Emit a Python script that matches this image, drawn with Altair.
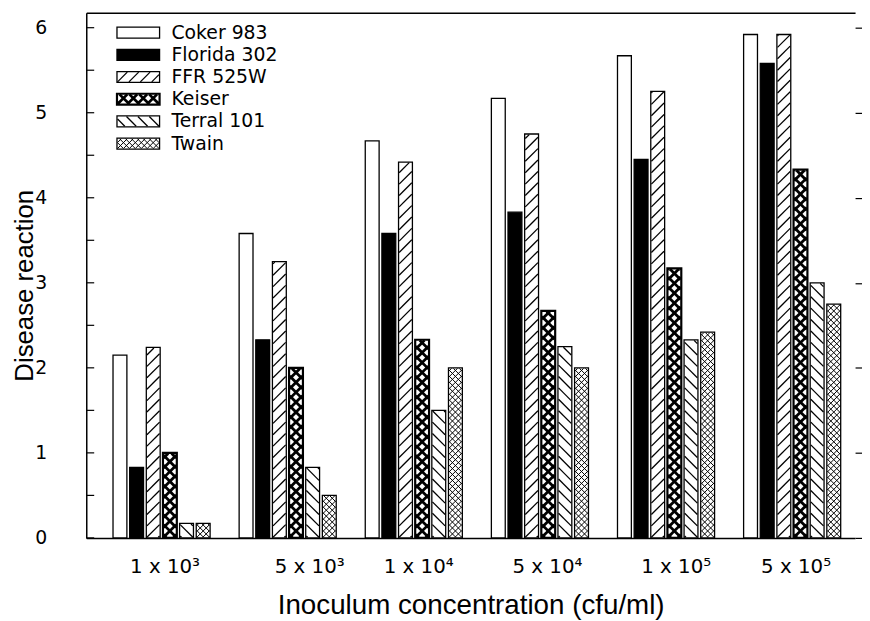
import json
import math
import numpy as np
import pandas as pd
import altair as alt

# ---------------- data ----------------
concentrations = ["1 x 10³", "5 x 10³", "1 x 10⁴", "5 x 10⁴", "1 x 10⁵", "5 x 10⁵"]
cultivars = ["Coker 983", "Florida 302", "FFR 525W", "Keiser", "Terral 101", "Twain"]
coker_983 = [2.15, 3.58, 4.67, 5.17, 5.67, 5.92]
florida_302 = [0.83, 2.33, 3.58, 3.83, 4.45, 5.58]
ffr_525w = [2.24, 3.25, 4.42, 4.75, 5.25, 5.92]
keiser = [1.00, 2.00, 2.33, 2.67, 3.17, 4.33]
terral_101 = [0.17, 0.83, 1.50, 2.25, 2.33, 3.00]
twain = [0.17, 0.50, 2.00, 2.00, 2.42, 2.75]
y_tick_values = [0, 0.5, 1, 1.5, 2, 2.5, 3, 3.5, 4, 4.5, 5, 5.5, 6]

series = [coker_983, florida_302, ffr_525w, keiser, terral_101, twain]
patterns = ["open", "solid", "fwd", "cross_heavy", "back", "cross_fine"]

# ---------------- layout (pixels) ----------------
W, H = 776, 530
Y_MAX = 6.175
PXY = H / Y_MAX
G0, G_STEP, B_STEP, B_W = 27, 127.3, 16.8, 14
LEG_X, LEG_W, LEG_H, LEG_TOP, LEG_ROW, LEG_TEXT_DX = 31, 43, 11, 20, 22.4, 55
# x positions (px from plot left) where the original prints each concentration label
LABEL_POS = [79, 225, 335, 465, 595, 716]

rows = []
for g, conc in enumerate(concentrations):
    for s, (cv, vals, pat) in enumerate(zip(cultivars, series, patterns)):
        x0 = G0 + g * G_STEP + s * B_STEP
        rows.append(dict(kind="bar", cultivar=cv, concentration=conc, pattern=pat,
                         x0=x0, x1=x0 + B_W, y0=0.0, y1=vals[g]))
legend_rows = []
for i, (cv, pat) in enumerate(zip(cultivars, patterns)):
    yc = (H - (LEG_TOP + i * LEG_ROW)) / PXY
    rows.append(dict(kind="legend", cultivar=cv, concentration="", pattern=pat,
                     x0=LEG_X, x1=LEG_X + LEG_W,
                     y0=yc - LEG_H / 2 / PXY, y1=yc + LEG_H / 2 / PXY))
    legend_rows.append(dict(cultivar=cv, tx=LEG_X + LEG_TEXT_DX, ty=yc))
boxes = pd.DataFrame(rows)
legend_df = pd.DataFrame(legend_rows)
ticks_df = pd.DataFrame({"v": y_tick_values})

# hatch line styles: pattern -> (list of (direction, spacing px), stroke width)
hatch_styles = {
    "fwd": ([("f", 11.5)], 1.3),
    "back": ([("b", 11.5)], 1.3),
    "cross_heavy": ([("f", 10.0), ("b", 10.0)], 2.8),
    "cross_fine": ([("f", 6.0), ("b", 6.0)], 1.0),
}


def hatch_segments(x0, x1, y0p, y1p, direction, d, ins=0.6):
    x0, x1, y0p, y1p = x0 + ins, x1 - ins, y0p + ins, y1p - ins
    w, h = x1 - x0, y1p - y0p
    out = []
    if w <= 0 or h <= 0:
        return out
    k = math.ceil(w / d)
    c = -k * d
    while c < h:
        t0, t1 = max(0.0, -c), min(w, h - c)
        if t1 > t0:
            ya, yb = y0p + c + t0, y0p + c + t1
            if direction == "f":
                xa, xb = x0 + t0, x0 + t1
            else:
                xa, xb = x1 - t0, x1 - t1
            out.append((xa, xb, ya / PXY, yb / PXY))
        c += d
    return out


hrows = []
for _, b in boxes.iterrows():
    if b.pattern not in hatch_styles:
        continue
    dirs, _sw = hatch_styles[b.pattern]
    for direction, d in dirs:
        for xa, xb, ya, yb in hatch_segments(b.x0, b.x1, b.y0 * PXY, b.y1 * PXY, direction, d):
            hrows.append(dict(pattern=b.pattern, xa=xa, xb=xb, ya=ya, yb=yb))
hatch_df = pd.DataFrame(hrows)

# ---------------- scales & axes ----------------
xs = alt.Scale(domain=[0, W], nice=False, zero=False)
ys = alt.Scale(domain=[0, Y_MAX], nice=False, zero=False)

label_expr = (f"{json.dumps(concentrations, ensure_ascii=False)}"
              f"[indexof({json.dumps(LABEL_POS)}, datum.value)]")

x_axis = alt.Axis(orient="bottom", values=LABEL_POS, labelExpr=label_expr, ticks=False,
                  domain=True, domainColor="black", domainWidth=1.5, grid=False,
                  labelPadding=19, labelFont="DejaVu Sans", labelFontSize=20, labelColor="black",
                  labelFlush=False, labelOverlap=False,
                  title="Inoculum concentration (cfu/ml)", titleFont="Liberation Sans",
                  titleFontSize=28, titleFontWeight="normal", titleColor="black", titlePadding=15)

x_top = alt.Axis(orient="top", labels=False, ticks=False, grid=False, domain=True,
                 domainColor="black", domainWidth=1.5, title="")

y_left = alt.Axis(orient="left", values=y_tick_values,
                  labelExpr="datum.value % 1 == 0 ? '' + datum.value : ''",
                  domain=True, domainColor="black", domainWidth=1.5, grid=False, ticks=False,
                  labelPadding=40, labelFont="DejaVu Sans", labelFontSize=19, labelColor="black",
                  labelFlush=False, labelOverlap=False,
                  title="Disease reaction", titleFont="Liberation Sans", titleFontSize=26,
                  titleFontWeight="normal", titleColor="black", titlePadding=-3, titleY=275)

y_right = alt.Axis(orient="right", values=[0, 1, 2, 3, 4, 5, 6], labels=False, domain=False,
                   grid=False, tickSize=7, tickColor="black", tickWidth=1.2, title="")

# ---------------- layers ----------------
bars_fill = alt.Chart(boxes).mark_rect(strokeWidth=0).encode(
    x=alt.X("x0:Q", scale=xs, axis=x_axis),
    x2="x1:Q",
    y=alt.Y("y0:Q", scale=ys, axis=y_left),
    y2="y1:Q",
    fill=alt.condition("datum.pattern == 'solid'", alt.value("black"), alt.value("white")),
)

hatch_layers = []
for pat, (_dirs, sw) in hatch_styles.items():
    hatch_layers.append(
        alt.Chart(hatch_df).transform_filter(f"datum.pattern == '{pat}'")
        .mark_rule(color="black", strokeWidth=sw)
        .encode(
            x=alt.X("xa:Q", scale=xs, axis=None),
            x2="xb:Q",
            y=alt.Y("ya:Q", scale=ys, axis=None),
            y2="yb:Q",
        )
    )

outline = alt.Chart(boxes).mark_rect(fill="transparent", stroke="black").encode(
    x=alt.X("x0:Q", scale=xs, axis=None),
    x2="x1:Q",
    y=alt.Y("y0:Q", scale=ys, axis=y_right),
    y2="y1:Q",
    strokeWidth=alt.condition("datum.pattern == 'cross_heavy'", alt.value(2.2), alt.value(1.3)),
)

# inward ticks on the left frame
inner_ticks = alt.Chart(ticks_df).mark_rule(color="black", strokeWidth=1.2).encode(
    x=alt.value(0),
    x2=alt.value(8),
    y=alt.Y("v:Q", scale=ys, axis=None),
)

legend_text = alt.Chart(legend_df).mark_text(
    align="left", baseline="middle", font="DejaVu Sans", fontSize=19, color="black"
).encode(
    x=alt.X("tx:Q", scale=xs, axis=x_top),
    y=alt.Y("ty:Q", scale=ys, axis=None),
    text="cultivar:N",
)

chart = (
    alt.layer(bars_fill, *hatch_layers, outline, inner_ticks, legend_text)
    .resolve_axis(x="independent", y="independent")
    .properties(
        width=W,
        height=H,
        autosize=alt.AutoSizeParams(type="none"),
        padding={"left": 79, "top": 2, "right": 7, "bottom": 80},
        background="white",
    )
    .configure_view(stroke=None)
)

chart.save("out.html", embed_options={"renderer": "svg", "actions": False})
